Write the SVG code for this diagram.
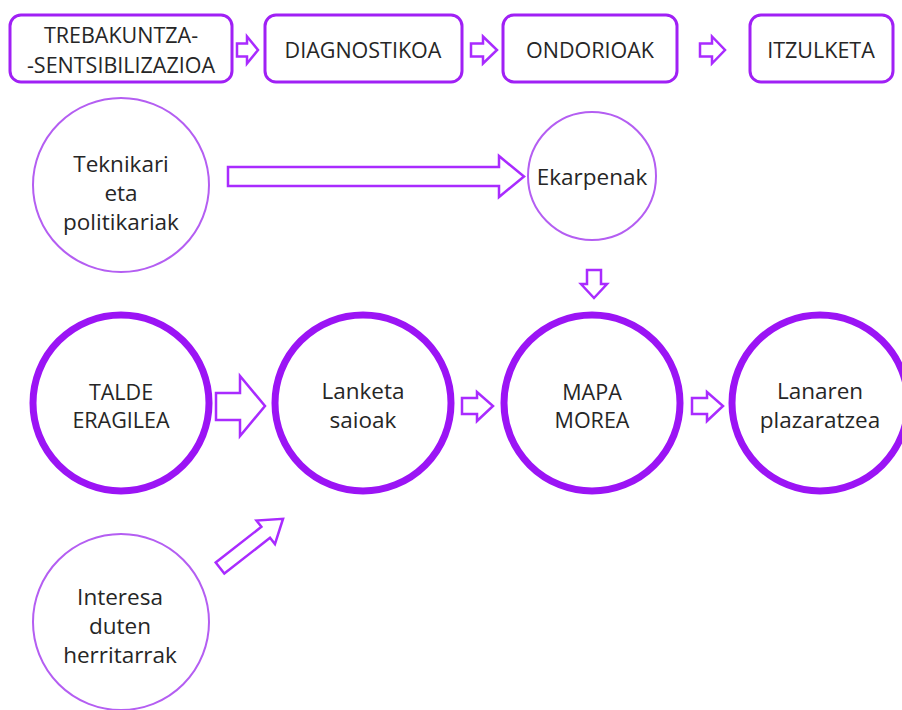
<svg xmlns="http://www.w3.org/2000/svg" width="902" height="710" viewBox="0 0 902 710">
<style>
text{font-family:"Open Sans","Noto Sans","DejaVu Sans",sans-serif;fill:#262626;text-anchor:middle;font-size:22.5px}
.box{fill:#fff;stroke:#a020f5;stroke-width:3}
.thin{fill:#fff;stroke:#b45ef2;stroke-width:2}
.thick{fill:#fff;stroke:#9b14f5;stroke-width:7}
.arr{fill:#fff;stroke:#a92bff;stroke-width:2.5;stroke-linejoin:miter}
.cap{font-size:21.5px}
</style>
<rect width="902" height="710" fill="#fff"/>
<g id="box-trebakuntza"><rect class="box" x="10" y="15" width="222" height="67" rx="11"/><text class="cap" x="121" y="43">TREBAKUNTZA-</text><text class="cap" x="121" y="73">-SENTSIBILIZAZIOA</text></g>
<g id="box-diagnostikoa"><rect class="box" x="265" y="15" width="197" height="67" rx="11"/><text class="cap" x="363" y="58">DIAGNOSTIKOA</text></g>
<g id="box-ondorioak"><rect class="box" x="503" y="15" width="174" height="67" rx="11"/><text class="cap" x="590" y="58">ONDORIOAK</text></g>
<g id="box-itzulketa"><rect class="box" x="750" y="15" width="143" height="67" rx="11"/><text class="cap" x="821" y="58">ITZULKETA</text></g>
<g id="node-teknikari"><ellipse class="thin" cx="121" cy="185" rx="88" ry="87"/><text x="121" y="172">Teknikari</text><text x="121" y="201">eta</text><text x="121" y="230">politikariak</text></g>
<g id="node-ekarpenak"><circle class="thin" cx="592" cy="176" r="64"/><text x="592" y="185">Ekarpenak</text></g>
<g id="node-talde"><circle class="thick" cx="121" cy="403" r="88"/><text class="cap" x="121" y="400">TALDE</text><text class="cap" x="121" y="428">ERAGILEA</text></g>
<g id="node-lanketa"><circle class="thick" cx="363" cy="403" r="88"/><text x="363" y="399">Lanketa</text><text x="363" y="428">saioak</text></g>
<g id="node-mapa"><circle class="thick" cx="592" cy="403" r="88"/><text class="cap" x="592" y="400">MAPA</text><text class="cap" x="592" y="428">MOREA</text></g>
<g id="node-lanaren"><circle class="thick" cx="820" cy="403" r="88"/><text x="820" y="399">Lanaren</text><text x="820" y="428">plazaratzea</text></g>
<g id="node-interesa"><circle class="thin" cx="121" cy="622" r="88"/><text x="120" y="605">Interesa</text><text x="120" y="634">duten</text><text x="120" y="663">herritarrak</text></g>
<g id="connectors">
<path class="arr" d="M237,43.5H247V36.5L258,50L247,63.5V56.5H237Z"/>
<path class="arr" d="M471,43.5H483V36.5L497,50L483,63.5V56.5H471Z"/>
<path class="arr" d="M700,43.5H712V36.5L725,50L712,63.5V56.5H700Z"/>
<path class="arr" d="M228,167H499V156L524,176.5L499,197V186H228Z" stroke-width="2"/>
<path class="arr" d="M587,270H601V284H607L594,298L581,284H587Z" stroke-width="2"/>
<path class="arr" d="M216,393H240V376L265,406L240,436V420H216Z" stroke-width="3"/>
<path class="arr" d="M462,398H477V392L493,406L477,421V414H462Z" stroke-width="2"/>
<path class="arr" d="M692,398H707V392L723,406L707,421V414H692Z" stroke-width="2"/>
<path class="arr" d="M0,-7H58V-15L80,0L58,15V7H0Z" transform="translate(220,568) rotate(-38)" stroke-width="2.5"/>
</g>
</svg>
